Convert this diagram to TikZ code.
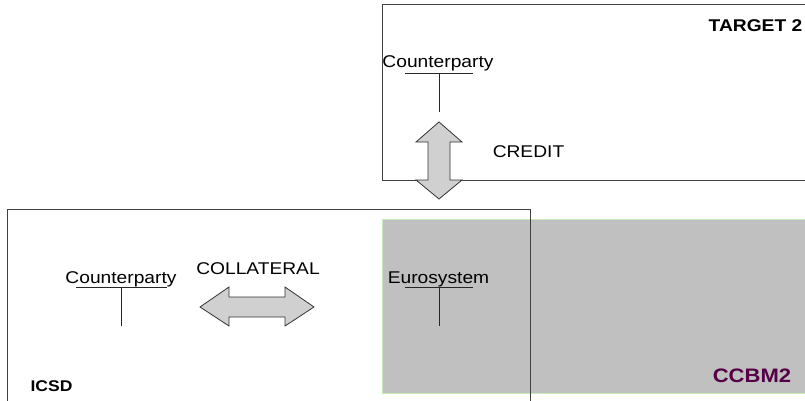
\documentclass[tikz,border=0pt]{standalone}
\usepackage{fontspec}
\setmainfont{Liberation Sans}[FakeStretch=1.13]
\definecolor{ccbmfill}{RGB}{192,192,192}
\definecolor{ccbmedge}{RGB}{200,236,186}
\definecolor{ccbmtext}{RGB}{85,0,70}
\definecolor{arrowfill}{RGB}{208,208,208}
\begin{document}
\begin{tikzpicture}[x=1pt,y=-1pt,
  lbl/.style={font=\fontsize{17}{20}\selectfont, inner sep=0pt, anchor=base},
  ttl/.style={font=\fontsize{17}{20}\selectfont\bfseries, inner sep=0pt, anchor=base},
  frame/.style={draw=black!75, line width=0.8pt},
  tick/.style={draw=black!85, line width=0.8pt},
  bigarrow/.style={draw=black!80, fill=arrowfill, line width=0.8pt, line join=miter}]
\useasboundingbox (0,0) rectangle (805,401);
% CCBM2 area
\fill[ccbmfill] (382,219) rectangle (812,393);
\draw[ccbmedge, line width=0.9pt] (812,219) -- (382,219) -- (382,393) -- (812,393);
% TARGET 2 frame
\draw[frame] (382,4) rectangle (812,180);
% ICSD frame
\draw[frame] (7,420) |- (530,209) -- (530,420);
% texts
\node[ttl] (t2) at (755.5,32) {TARGET 2};
\node[lbl] (cpt) at (438,68) {Counterparty};
\node[lbl] (credit) at (528.5,157) {CREDIT};
\node[lbl] (cpl) at (121,283) {Counterparty};
\node[lbl] (coll) at (258,274) {COLLATERAL};
\node[lbl] (euro) at (438.5,283) {Eurosystem};
\node[ttl, font=\fontsize{15.5}{18}\selectfont\bfseries] (icsd) at (51.5,391) {ICSD};
\node[ttl, font=\fontsize{19.5}{22}\selectfont\bfseries, text=ccbmtext] (ccbm) at (752,382) {CCBM2};
% org-chart ticks
\coordinate (cptu) at (439,73);
\coordinate (cptd) at (439,112);
\draw[tick] (405,73) -- (473,73);
\draw[tick] (cptu) -- (cptd);
\coordinate (cplu) at (121,287);
\coordinate (cpld) at (121,326);
\draw[tick] (76,287) -- (167,287);
\draw[tick] (cplu) -- (cpld);
\coordinate (euu) at (439,287);
\coordinate (eud) at (439,326);
\draw[tick] (405,287) -- (473,287);
\draw[tick] (euu) -- (eud);
% CREDIT double arrow
\draw[bigarrow] (439,122) -- (462,142) -- (450,142) -- (450,180) -- (462,180) -- (439,199)
  -- (416,180) -- (428,180) -- (428,142) -- (416,142) -- cycle;
% COLLATERAL double arrow
\draw[bigarrow] (200,307) -- (229,287) -- (229,297) -- (285,297) -- (285,287) -- (314,307)
  -- (285,326) -- (285,317) -- (229,317) -- (229,326) -- cycle;
\end{tikzpicture}
\end{document}
